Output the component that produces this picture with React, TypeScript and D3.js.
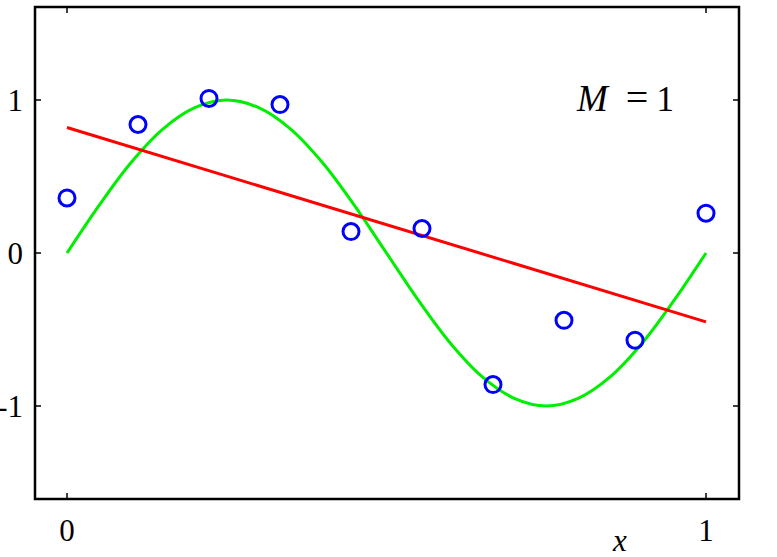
import { useEffect, useRef } from 'react';
import * as d3 from 'd3';

// observed targets t at x = 0 .. 1
const pointX = [0, 1 / 9, 2 / 9, 3 / 9, 4 / 9, 5 / 9, 6 / 9, 7 / 9, 8 / 9, 1];
const pointT = [0.36, 0.84, 1.01, 0.97, 0.14, 0.16, -0.86, -0.44, -0.57, 0.26];

// underlying curve, read at steps of 0.05
const curveX = d3.range(0, 21).map(i => i / 20);
const curveY = [0, 0.31, 0.59, 0.81, 0.95, 1.0, 0.95, 0.81, 0.59, 0.31, 0,
    -0.31, -0.59, -0.81, -0.95, -1.0, -0.95, -0.81, -0.59, -0.31, 0];

// fitted polynomial M = 1, values at the two ends
const fitX = [0, 1];
const fitY = [0.82, -0.45];

const xTicks = [0, 1];
const yTicks = [-1, 0, 1];
const yTickLabels = ['-1', '0', '1'];

const App = () => {
    const svgRef = useRef<SVGSVGElement>(null);

    useEffect(() => {
        if (!svgRef.current) return;
        d3.select(svgRef.current).selectAll('*').remove();

        const width = 777;
        const height = 557;
        const box = { left: 35, top: 7, right: 739, bottom: 499 };
        const font = '"Liberation Serif", "Times New Roman", serif';

        const svg = d3.select(svgRef.current)
            .attr('width', width)
            .attr('height', height);

        const x = d3.scaleLinear().domain([0, 1]).range([67, 706]);
        const y = d3.scaleLinear().domain([-1, 1]).range([406, 100]);

        const line = d3.line<[number, number]>()
            .x(d => x(d[0]))
            .y(d => y(d[1]));

        // green curve
        svg.append('path')
            .attr('d', line.curve(d3.curveCatmullRom)(curveX.map((v, i) => [v, curveY[i]] as [number, number])))
            .attr('fill', 'none')
            .attr('stroke', '#00ee00')
            .attr('stroke-width', 3);

        // red fit
        svg.append('path')
            .attr('d', line.curve(d3.curveLinear)(fitX.map((v, i) => [v, fitY[i]] as [number, number])))
            .attr('fill', 'none')
            .attr('stroke', '#ff0000')
            .attr('stroke-width', 3);

        // data points
        svg.selectAll('.pt')
            .data(pointX)
            .enter()
            .append('circle')
            .attr('cx', d => x(d))
            .attr('cy', (_, i) => y(pointT[i]))
            .attr('r', 8)
            .attr('fill', 'none')
            .attr('stroke', '#0000ff')
            .attr('stroke-width', 3);

        // frame
        svg.append('rect')
            .attr('x', box.left)
            .attr('y', box.top)
            .attr('width', box.right - box.left)
            .attr('height', box.bottom - box.top)
            .attr('fill', 'none')
            .attr('stroke', '#000')
            .attr('stroke-width', 2.5);

        // ticks, pointing inward on all four sides
        xTicks.forEach(t => {
            svg.append('line').attr('x1', x(t)).attr('x2', x(t))
                .attr('y1', box.bottom).attr('y2', box.bottom - 6)
                .attr('stroke', '#000').attr('stroke-width', 1.5);
            svg.append('line').attr('x1', x(t)).attr('x2', x(t))
                .attr('y1', box.top).attr('y2', box.top + 6)
                .attr('stroke', '#000').attr('stroke-width', 1.5);
            svg.append('text')
                .attr('x', x(t))
                .attr('y', 541)
                .attr('text-anchor', 'middle')
                .attr('font-family', font)
                .attr('font-size', 31)
                .text(t);
        });

        yTicks.forEach((t, i) => {
            svg.append('line').attr('x1', box.left).attr('x2', box.left + 6)
                .attr('y1', y(t)).attr('y2', y(t))
                .attr('stroke', '#000').attr('stroke-width', 1.5);
            svg.append('line').attr('x1', box.right).attr('x2', box.right - 6)
                .attr('y1', y(t)).attr('y2', y(t))
                .attr('stroke', '#000').attr('stroke-width', 1.5);
            svg.append('text')
                .attr('x', 23)
                .attr('y', y(t) + 11)
                .attr('text-anchor', 'end')
                .attr('font-family', font)
                .attr('font-size', 31)
                .text(yTickLabels[i]);
        });

        // x axis label
        svg.append('text')
            .attr('x', 620)
            .attr('y', 551)
            .attr('text-anchor', 'middle')
            .attr('font-family', font)
            .attr('font-style', 'italic')
            .attr('font-size', 31)
            .text('x');

        // model order label, set math-style with wide spacing round "="
        const lab = svg.append('g')
            .attr('font-family', font);
        lab.append('text').attr('x', 577).attr('y', 111)
            .attr('font-size', 37)
            .attr('font-style', 'italic').text('M');
        lab.append('text').attr('x', 637).attr('y', 111)
            .attr('text-anchor', 'middle')
            .attr('font-size', 40).text('=');
        lab.append('text').attr('x', 674).attr('y', 111)
            .attr('text-anchor', 'end')
            .attr('font-size', 35).text('1');
    }, []);

    return (
        <svg ref={svgRef} style={{ position: 'absolute', left: 0, top: 0 }}></svg>
    );
};

export default App;
